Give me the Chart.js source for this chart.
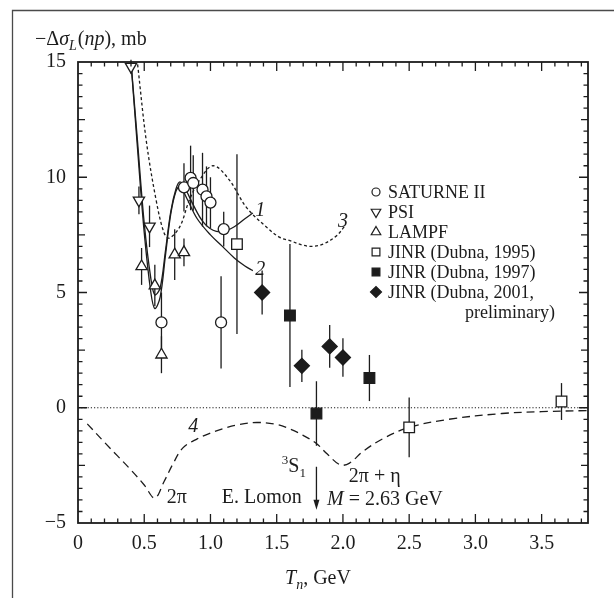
<!DOCTYPE html>
<html>
<head>
<meta charset="utf-8">
<script src="https://cdn.jsdelivr.net/npm/chart.js@4.4.1/dist/chart.umd.min.js"></script>
<style>
  html, body { margin: 0; padding: 0; background: #fff; }
  #chart-dsigma { display: block; }
</style>
</head>
<body>
<canvas id="chart-dsigma" width="614" height="598"></canvas>
<script>
// ─── -Δσ_L(np) vs neutron kinetic energy ─────────────────────────────────────

const INK = '#1c1c1c';
const SERIF = '"Liberation Serif", "DejaVu Serif", serif';

// measured points: T_n (GeV), -Δσ_L (mb), error (mb)
const saturneT   = [0.63, 0.80, 0.85, 0.87, 0.94, 0.97, 1.00, 1.08, 1.10];
const saturneV   = [3.7, 9.56, 9.97, 9.75, 9.46, 9.17, 8.90, 3.7, 7.75];
const saturneErr = [1.3, 1.05, 1.4, 1.2, 1.6, 1.3, 1.1, 2.0, 0.75];

const psiT   = [0.40, 0.46, 0.54];
const psiV   = [14.8, 9.0, 7.87];
const psiErr = [0.3, 0.6, 0.9];

const lampfT   = [0.48, 0.58, 0.63, 0.73, 0.80];
const lampfV   = [6.13, 5.3, 2.3, 6.64, 6.74];
const lampfErr = [0.8, 0.9, 0.8, 1.1, 0.6];

const jinr95T   = [1.20, 2.50, 3.65];
const jinr95V   = [7.1, -0.85, 0.27];
const jinr95Err = [3.9, 1.3, 0.8];

const jinr97T   = [1.60, 1.80, 2.20];
const jinr97V   = [4.0, -0.25, 1.29];
const jinr97Err = [3.1, 1.4, 1.0];

const jinr01T   = [1.39, 1.69, 1.90, 2.00];
const jinr01V   = [5.0, 1.82, 2.66, 2.18];
const jinr01Err = [0.95, 0.7, 0.93, 0.84];

// model curves
const curve1T = [0.40, 0.45, 0.50, 0.55, 0.58, 0.62, 0.66, 0.70, 0.74, 0.77, 0.81, 0.87, 0.94, 1.02, 1.10, 1.18, 1.26, 1.32];
const curve1V = [15.0, 11.5, 8.0, 5.6, 4.9, 5.2, 6.8, 8.5, 9.5, 9.8, 9.5, 8.8, 8.1, 7.7, 7.65, 7.85, 8.2, 8.45];

const curve2T = [0.40, 0.45, 0.50, 0.55, 0.58, 0.62, 0.66, 0.70, 0.74, 0.77, 0.82, 0.90, 1.00, 1.09, 1.18, 1.26, 1.32];
const curve2V = [15.0, 11.2, 7.6, 5.0, 4.3, 4.8, 6.6, 8.4, 9.4, 9.6, 9.1, 8.2, 7.5, 7.0, 6.5, 6.15, 5.95];

const curve3T = [0.45, 0.515, 0.59, 0.65, 0.69, 0.77, 0.84, 0.92, 1.02, 1.14, 1.27, 1.42, 1.52, 1.60, 1.70, 1.77, 1.85, 1.95, 2.01];
const curve3V = [14.9, 11.6, 9.0, 7.58, 7.36, 7.87, 9.0, 9.9, 10.5, 9.9, 8.7, 7.85, 7.4, 7.25, 7.05, 7.0, 7.1, 7.45, 7.85];

const curve4T = [0.07, 0.20, 0.30, 0.40, 0.50, 0.58, 0.65, 0.72, 0.79, 0.90, 1.00, 1.10, 1.20, 1.35, 1.50, 1.60, 1.70, 1.80, 1.88, 1.98, 2.05, 2.15, 2.30, 2.50, 2.80, 3.20, 3.50, 3.85];
const curve4V = [-0.7, -1.5, -2.1, -2.7, -3.35, -3.92, -3.2, -2.4, -1.75, -1.35, -1.1, -0.9, -0.75, -0.64, -0.72, -0.92, -1.2, -1.55, -2.0, -2.48, -2.4, -1.9, -1.35, -0.85, -0.5, -0.25, -0.17, -0.12];

const zeroT = [0, 3.85];
const zeroV = [0, 0];

// axis ticks
const xTickVals   = [0, 0.5, 1.0, 1.5, 2.0, 2.5, 3.0, 3.5];
const xTickLabels = ['0', '0.5', '1.0', '1.5', '2.0', '2.5', '3.0', '3.5'];
const yTickVals   = [-5, 0, 5, 10, 15];
const yTickLabels = ['\u22125', '0', '5', '10', '15'];

// curve labels and notes, in data units
const noteTexts = ['1', '2', '3', '4', '2\u03c0', 'E. Lomon', 'M = 2.63 GeV', '2\u03c0 + \u03b7'];
const noteT     = [1.375, 1.375, 2.0, 0.87, 0.67, 1.387, 1.88, 2.24];
const noteV     = [8.55, 6.0, 8.08, -0.82, -3.9, -3.9, -3.9, -3.0];

const pts = (xs, ys) => xs.map((x, i) => ({ x, y: ys[i] }));

function markerSet(label, xs, ys, errs, style) {
  return {
    type: 'scatter',
    label,
    data: pts(xs, ys),
    errors: errs,
    showLine: false,
    pointStyle: style.shape,
    rotation: style.rotation || 0,
    pointRadius: style.r,
    pointHoverRadius: style.r,
    backgroundColor: style.fill,
    borderColor: INK,
    pointBorderWidth: 1.3,
  };
}

function curveSet(label, xs, ys, dash) {
  return {
    type: 'line',
    label,
    data: pts(xs, ys),
    borderColor: INK,
    borderWidth: 1.3,
    borderDash: dash,
    pointRadius: 0,
    tension: 0.35,
    fill: false,
  };
}

const markerSets = [
  markerSet('SATURNE II', saturneT, saturneV, saturneErr, { shape: 'circle', r: 5.5, fill: '#fff' }),
  markerSet('PSI', psiT, psiV, psiErr, { shape: 'triangle', rotation: 180, r: 6.5, fill: '#fff' }),
  markerSet('LAMPF', lampfT, lampfV, lampfErr, { shape: 'triangle', r: 6.5, fill: '#fff' }),
  markerSet('JINR (Dubna, 1995)', jinr95T, jinr95V, jinr95Err, { shape: 'rect', r: 7.5, fill: '#fff' }),
  markerSet('JINR (Dubna, 1997)', jinr97T, jinr97V, jinr97Err, { shape: 'rect', r: 7.5, fill: INK }),
  markerSet('JINR (Dubna, 2001,', jinr01T, jinr01V, jinr01Err, { shape: 'rectRot', r: 7.5, fill: INK }),
];

const curveSets = [
  curveSet('1', curve1T, curve1V, []),
  curveSet('2', curve2T, curve2V, []),
  curveSet('3', curve3T, curve3V, [3, 2.5]),
  curveSet('4', curve4T, curve4V, [8, 5]),
  { ...curveSet('zero', zeroT, zeroV, [1.2, 2]), tension: 0, borderWidth: 1.2 },
];

// thin page frame along the top and left edge
const pageFrame = {
  id: 'pageFrame',
  beforeDraw(chart) {
    const { ctx, width, height } = chart;
    ctx.save();
    ctx.strokeStyle = '#4a4a4a';
    ctx.lineWidth = 1.3;
    ctx.beginPath();
    ctx.moveTo(12.5, height);
    ctx.lineTo(12.5, 10.5);
    ctx.lineTo(width, 10.5);
    ctx.stroke();
    ctx.restore();
  }
};

// vertical error bars, drawn under the markers
const errorBars = {
  id: 'errorBars',
  beforeDatasetsDraw(chart) {
    const { ctx, scales: { y } } = chart;
    ctx.save();
    ctx.strokeStyle = INK;
    ctx.lineWidth = 1.3;
    chart.data.datasets.forEach((ds, i) => {
      if (!ds.errors) return;
      chart.getDatasetMeta(i).data.forEach((p, j) => {
        const v = ds.data[j].y, e = ds.errors[j];
        ctx.beginPath();
        ctx.moveTo(p.x, y.getPixelForValue(v + e));
        ctx.lineTo(p.x, y.getPixelForValue(v - e));
        ctx.stroke();
      });
    });
    ctx.restore();
  }
};

// box round the plot with inward ticks on all four sides
const frameTicks = {
  id: 'frameTicks',
  afterDraw(chart) {
    const { ctx, chartArea: a, scales: { x, y } } = chart;
    ctx.save();
    ctx.strokeStyle = INK;
    ctx.lineWidth = 1.8;
    ctx.strokeRect(a.left, a.top, a.right - a.left, a.bottom - a.top);
    ctx.lineWidth = 1.3;
    ctx.beginPath();
    for (let k = 1; k * 0.1 < x.max; k++) {
      const px = x.getPixelForValue(k * 0.1);
      const len = k % 5 === 0 ? 9 : 4.5;
      ctx.moveTo(px, a.bottom); ctx.lineTo(px, a.bottom - len);
      ctx.moveTo(px, a.top); ctx.lineTo(px, a.top + len);
    }
    for (let k = 1; k < 40; k++) {
      const py = y.getPixelForValue(-5 + k * 0.5);
      const len = k % 10 === 0 ? 9 : (k % 5 === 0 ? 7 : 4.5);
      ctx.moveTo(a.left, py); ctx.lineTo(a.left + len, py);
      ctx.moveTo(a.right, py); ctx.lineTo(a.right - len, py);
    }
    ctx.stroke();
    ctx.restore();
  }
};

// mixed italic / roman text runs with sub- and superscripts
function drawRuns(ctx, runs, x, y, align) {
  const fontOf = r => `${r.it ? 'italic ' : ''}${r.size}px ${SERIF}`;
  let total = 0;
  runs.forEach(r => { ctx.font = fontOf(r); total += ctx.measureText(r.t).width + (r.gap || 0); });
  let cx = align === 'center' ? x - total / 2 : x;
  ctx.textAlign = 'left';
  ctx.textBaseline = 'alphabetic';
  runs.forEach(r => {
    ctx.font = fontOf(r);
    ctx.fillText(r.t, cx, y + (r.dy || 0));
    cx += ctx.measureText(r.t).width + (r.gap || 0);
  });
}

const labelsAndLegend = {
  id: 'labelsAndLegend',
  afterDraw(chart) {
    const { ctx, scales: { x, y } } = chart;
    ctx.save();
    ctx.fillStyle = INK;

    // axis titles
    drawRuns(ctx, [
      { t: '\u2212\u0394', size: 20 }, { t: '\u03c3', size: 20, it: true },
      { t: 'L', size: 14, it: true, dy: 5, gap: 1 }, { t: '(', size: 20 },
      { t: 'np', size: 20, it: true }, { t: '), mb', size: 20 },
    ], 35, 45, 'left');
    drawRuns(ctx, [
      { t: 'T', size: 20, it: true }, { t: 'n', size: 14, it: true, dy: 5 },
      { t: ', GeV', size: 20 },
    ], 318, 584, 'center');

    // curve numbers and notes
    noteTexts.forEach((t, i) => {
      const px = x.getPixelForValue(noteT[i]);
      const py = y.getPixelForValue(noteV[i]);
      ctx.textBaseline = 'middle';
      if (t.length === 1) {
        ctx.font = `italic 20px ${SERIF}`; ctx.textAlign = 'center';
        ctx.fillText(t, px, py);
      } else if (t.startsWith('M =')) {
        drawRuns(ctx, [{ t: 'M', size: 20, it: true }, { t: ' = 2.63 GeV', size: 20 }], px, py + 7, 'left');
      } else if (t === '2\u03c0') {
        ctx.font = `20px ${SERIF}`; ctx.textAlign = 'left';
        ctx.fillText(t, px, py);
      } else {
        ctx.font = `20px ${SERIF}`; ctx.textAlign = 'center';
        ctx.fillText(t, px, py);
      }
    });
    drawRuns(ctx, [
      { t: '3', size: 13, dy: -8 }, { t: 'S', size: 20 }, { t: '1', size: 13, dy: 5 },
    ], x.getPixelForValue(1.63), y.getPixelForValue(-2.48) + 7, 'center');

    // arrow down to M = 2.63 GeV
    const ax = x.getPixelForValue(1.8);
    const ay0 = y.getPixelForValue(-2.56), ay1 = y.getPixelForValue(-4.42);
    ctx.strokeStyle = INK; ctx.lineWidth = 1.3;
    ctx.beginPath(); ctx.moveTo(ax, ay0); ctx.lineTo(ax, ay1 - 6); ctx.stroke();
    ctx.beginPath(); ctx.moveTo(ax, ay1); ctx.lineTo(ax - 3, ay1 - 10); ctx.lineTo(ax + 3, ay1 - 10); ctx.closePath(); ctx.fill();

    // legend
    const lx = 376, ly = 192, step = 20;
    markerSets.forEach((ds, i) => {
      const yy = ly + i * step;
      ctx.fillStyle = ds.backgroundColor; ctx.strokeStyle = INK; ctx.lineWidth = 1.2;
      Chart.helpers.drawPoint(ctx, {
        pointStyle: ds.pointStyle, rotation: ds.rotation,
        radius: ds.pointStyle === 'circle' ? 4 : 5.5, borderWidth: 1.2,
      }, lx, yy);
      ctx.fillStyle = INK;
      ctx.font = `18px ${SERIF}`; ctx.textAlign = 'left'; ctx.textBaseline = 'middle';
      ctx.fillText(ds.label, lx + 12, yy + 1);
    });
    ctx.font = `18px ${SERIF}`; ctx.textAlign = 'right'; ctx.textBaseline = 'middle';
    ctx.fillText('preliminary)', 555, ly + 6 * step + 1);

    ctx.restore();
  }
};

new Chart(document.getElementById('chart-dsigma'), {
  type: 'scatter',
  data: { datasets: [...markerSets, ...curveSets] },
  plugins: [pageFrame, errorBars, frameTicks, labelsAndLegend],
  options: {
    responsive: false,
    animation: false,
    layout: { padding: { left: 0, right: 26, top: 62, bottom: 0 } },
    plugins: { legend: { display: false }, tooltip: { enabled: false } },
    scales: {
      x: {
        type: 'linear', min: 0, max: 3.85,
        afterFit: s => { s.height = 75; },
        afterBuildTicks: s => { s.ticks = xTickVals.map(value => ({ value })); },
        grid: { display: false, drawTicks: false }, border: { display: false },
        ticks: {
          autoSkip: false, maxRotation: 0, padding: 9, color: INK,
          font: { family: SERIF, size: 20 },
          callback: (v, i) => xTickLabels[i]
        }
      },
      y: {
        type: 'linear', min: -5, max: 15,
        afterFit: s => { s.width = 78; },
        afterBuildTicks: s => { s.ticks = yTickVals.map(value => ({ value })); },
        grid: { display: false, drawTicks: false }, border: { display: false },
        ticks: {
          autoSkip: false, padding: 12, color: INK,
          font: { family: SERIF, size: 20 },
          callback: (v, i) => yTickLabels[i]
        }
      }
    }
  }
});
</script>
</body>
</html>
